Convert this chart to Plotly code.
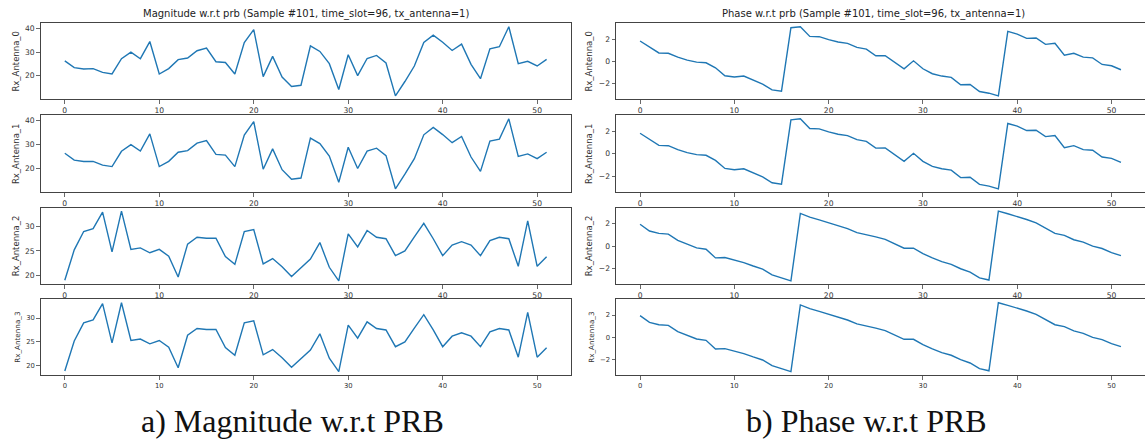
import plotly.graph_objects as go

prb = list(range(52))

mag_rx0 = [26.3, 23.4, 22.8, 23.0, 21.4, 20.7, 27.2, 30.0, 27.2, 34.5,
           20.7, 23.0, 26.8, 27.5, 30.6, 31.7, 25.9, 25.6, 20.7, 34.1,
           39.6, 19.6, 28.2, 19.4, 15.4, 15.9, 32.7, 30.3, 25.1, 14.1,
           28.9, 20.0, 27.3, 28.6, 25.4, 11.4, 17.5, 24.1, 34.1, 37.2,
           34.2, 30.7, 33.4, 24.8, 18.7, 31.4, 32.3, 40.8, 25.1, 26.1,
           24.1, 26.9]
mag_rx1 = [26.4, 23.5, 22.9, 23.0, 21.4, 20.8, 27.2, 30.0, 27.3, 34.5,
           20.8, 23.0, 26.8, 27.5, 30.6, 31.7, 25.9, 25.6, 20.8, 34.0,
           39.6, 19.7, 28.2, 19.5, 15.5, 16.0, 32.7, 30.4, 25.2, 14.2,
           28.9, 20.0, 27.3, 28.5, 25.4, 11.5, 17.6, 24.1, 34.1, 37.2,
           34.2, 30.8, 33.4, 24.8, 18.8, 31.5, 32.3, 40.8, 25.1, 26.1,
           24.1, 26.8]
mag_rx2 = [18.9, 25.2, 29.0, 29.6, 33.0, 24.8, 33.2, 25.3, 25.6, 24.6,
           25.3, 23.9, 19.6, 26.4, 27.8, 27.6, 27.6, 23.8, 22.2, 29.0,
           29.4, 22.3, 23.4, 21.7, 19.7, 21.4, 23.3, 26.7, 21.6, 18.8,
           28.5, 25.8, 29.2, 27.8, 27.5, 24.0, 25.0, 27.9, 30.7, 27.5,
           24.0, 26.2, 26.9, 26.2, 24.0, 27.1, 27.8, 27.5, 21.8, 31.2,
           21.8, 23.8]
mag_rx3 = list(mag_rx2)

ph_rx0 = [1.82, 1.28, 0.74, 0.71, 0.36, 0.09, -0.09, -0.15, -0.60, -1.32,
          -1.44, -1.35, -1.68, -2.08, -2.60, -2.72, 3.02, 3.11, 2.24, 2.21,
          1.94, 1.73, 1.61, 1.25, 1.09, 0.49, 0.50, -0.09, -0.69, 0.03,
          -0.69, -1.14, -1.35, -1.47, -2.14, -2.11, -2.75, -2.90, -3.14, 2.69,
          2.45, 2.06, 2.09, 1.52, 1.61, 0.53, 0.71, 0.36, 0.30, -0.30,
          -0.42, -0.78]
ph_rx1 = list(ph_rx0)
ph_rx2 = [1.94, 1.34, 1.13, 1.07, 0.51, 0.18, -0.15, -0.27, -1.04, -1.01,
          -1.22, -1.46, -1.76, -2.03, -2.54, -2.81, -3.07, 2.90, 2.57, 2.33,
          2.06, 1.85, 1.55, 1.20, 1.03, 0.82, 0.60, 0.24, -0.18, -0.18,
          -0.66, -1.04, -1.37, -1.61, -2.00, -2.30, -2.81, -3.00, 3.10, 2.87,
          2.63, 2.36, 2.06, 1.58, 1.13, 0.96, 0.57, 0.36, 0.00, -0.21,
          -0.57, -0.84]
ph_rx3 = list(ph_rx2)

row_labels = ["Rx_Antenna_0", "Rx_Antenna_1", "Rx_Antenna_2", "Rx_Antenna_3"]
mag_series = [mag_rx0, mag_rx1, mag_rx2, mag_rx3]
ph_series = [ph_rx0, ph_rx1, ph_rx2, ph_rx3]
mag_yticks = [[20, 30, 40], [20, 30, 40], [20, 25, 30], [20, 25, 30]]
ph_yticks = [[-2, 0, 2]] * 4
x_ticks = [0, 10, 20, 30, 40, 50]

title_left = "Magnitude w.r.t prb (Sample #101, time_slot=96, tx_antenna=1)"
title_right = "Phase w.r.t prb (Sample #101, time_slot=96, tx_antenna=1)"
caption_left = "a) Magnitude w.r.t PRB"
caption_right = "b) Phase w.r.t PRB"

W, H = 1145, 442
LINE = "#1f77b4"
AX = "#444444"
TXT = "#333333"
FONT = "DejaVu Sans"

# pixel layout
col_px = [(40.7, 570.7), (616.0, 1145.0)]
row_px = [(23.3, 99.3), (115.3, 192.3), (207.7, 284.3), (299.3, 375.0)]


def xdom(a, b):
    return [a / W, min(b / W, 1.0)]


def ydom(top, bottom):
    return [1 - bottom / H, 1 - top / H]


def padded(vals):
    lo, hi = min(vals), max(vals)
    m = (hi - lo) * 0.05
    return [lo - m, hi + m]


fig = go.Figure()
layout = {}
n = 0
for c, (series_list, yticks) in enumerate([(mag_series, mag_yticks), (ph_series, ph_yticks)]):
    for r in range(4):
        n += 1
        xa = "x" if n == 1 else f"x{n}"
        ya = "y" if n == 1 else f"y{n}"
        vals = series_list[r]
        fig.add_trace(go.Scatter(x=prb, y=vals, mode="lines",
                                 line=dict(color=LINE, width=1.4),
                                 xaxis=xa, yaxis=ya, showlegend=False,
                                 hoverinfo="skip"))
        small = (r == 3)
        tfs = 6.8 if small else 7.6
        lfs = 7.2 if small else 8.5
        layout["xaxis" if n == 1 else f"xaxis{n}"] = dict(
            domain=xdom(*col_px[c]), anchor=ya, range=[-2.55, 53.55],
            tickmode="array", tickvals=x_ticks, ticks="outside", ticklen=3.5,
            tickwidth=0.8, tickcolor=AX, showline=True, linecolor=AX, linewidth=1,
            mirror=True, showgrid=False, zeroline=False,
            tickfont=dict(family=FONT, size=tfs, color=TXT))
        layout["yaxis" if n == 1 else f"yaxis{n}"] = dict(
            domain=ydom(*row_px[r]), anchor=xa, range=padded(vals),
            tickmode="array", tickvals=yticks[r], ticks="outside", ticklen=3.5,
            tickwidth=0.8, tickcolor=AX, showline=True, linecolor=AX, linewidth=1,
            mirror=True, showgrid=False, zeroline=False,
            tickfont=dict(family=FONT, size=tfs, color=TXT),
            title=dict(text=row_labels[r], standoff=4,
                       font=dict(family=FONT, size=lfs, color=TXT)))

annotations = [
    dict(text=title_left, x=(col_px[0][0] + col_px[0][1]) / 2 / W, y=1 - 14 / H,
         xref="paper", yref="paper", showarrow=False, xanchor="center", yanchor="middle",
         font=dict(family=FONT, size=10, color="#222")),
    dict(text=title_right, x=(616 + 1130) / 2 / W, y=1 - 14 / H,
         xref="paper", yref="paper", showarrow=False, xanchor="center", yanchor="middle",
         font=dict(family=FONT, size=10, color="#222")),
    dict(text=caption_left, x=292 / W, y=1 - 421 / H,
         xref="paper", yref="paper", showarrow=False, xanchor="center", yanchor="middle",
         borderpad=0, font=dict(family="Liberation Serif", size=32, color="#111")),
    dict(text=caption_right, x=866 / W, y=1 - 421 / H,
         xref="paper", yref="paper", showarrow=False, xanchor="center", yanchor="middle",
         borderpad=0, font=dict(family="Liberation Serif", size=32, color="#111")),
]

fig.update_layout(width=W, height=H, margin=dict(l=0, r=0, t=0, b=0),
                  paper_bgcolor="white", plot_bgcolor="white",
                  annotations=annotations, **layout)

fig.write_html("out.html", config={"displayModeBar": False, "staticPlot": True},
               post_script="document.body.style.margin='0';document.body.style.overflow='hidden';")
